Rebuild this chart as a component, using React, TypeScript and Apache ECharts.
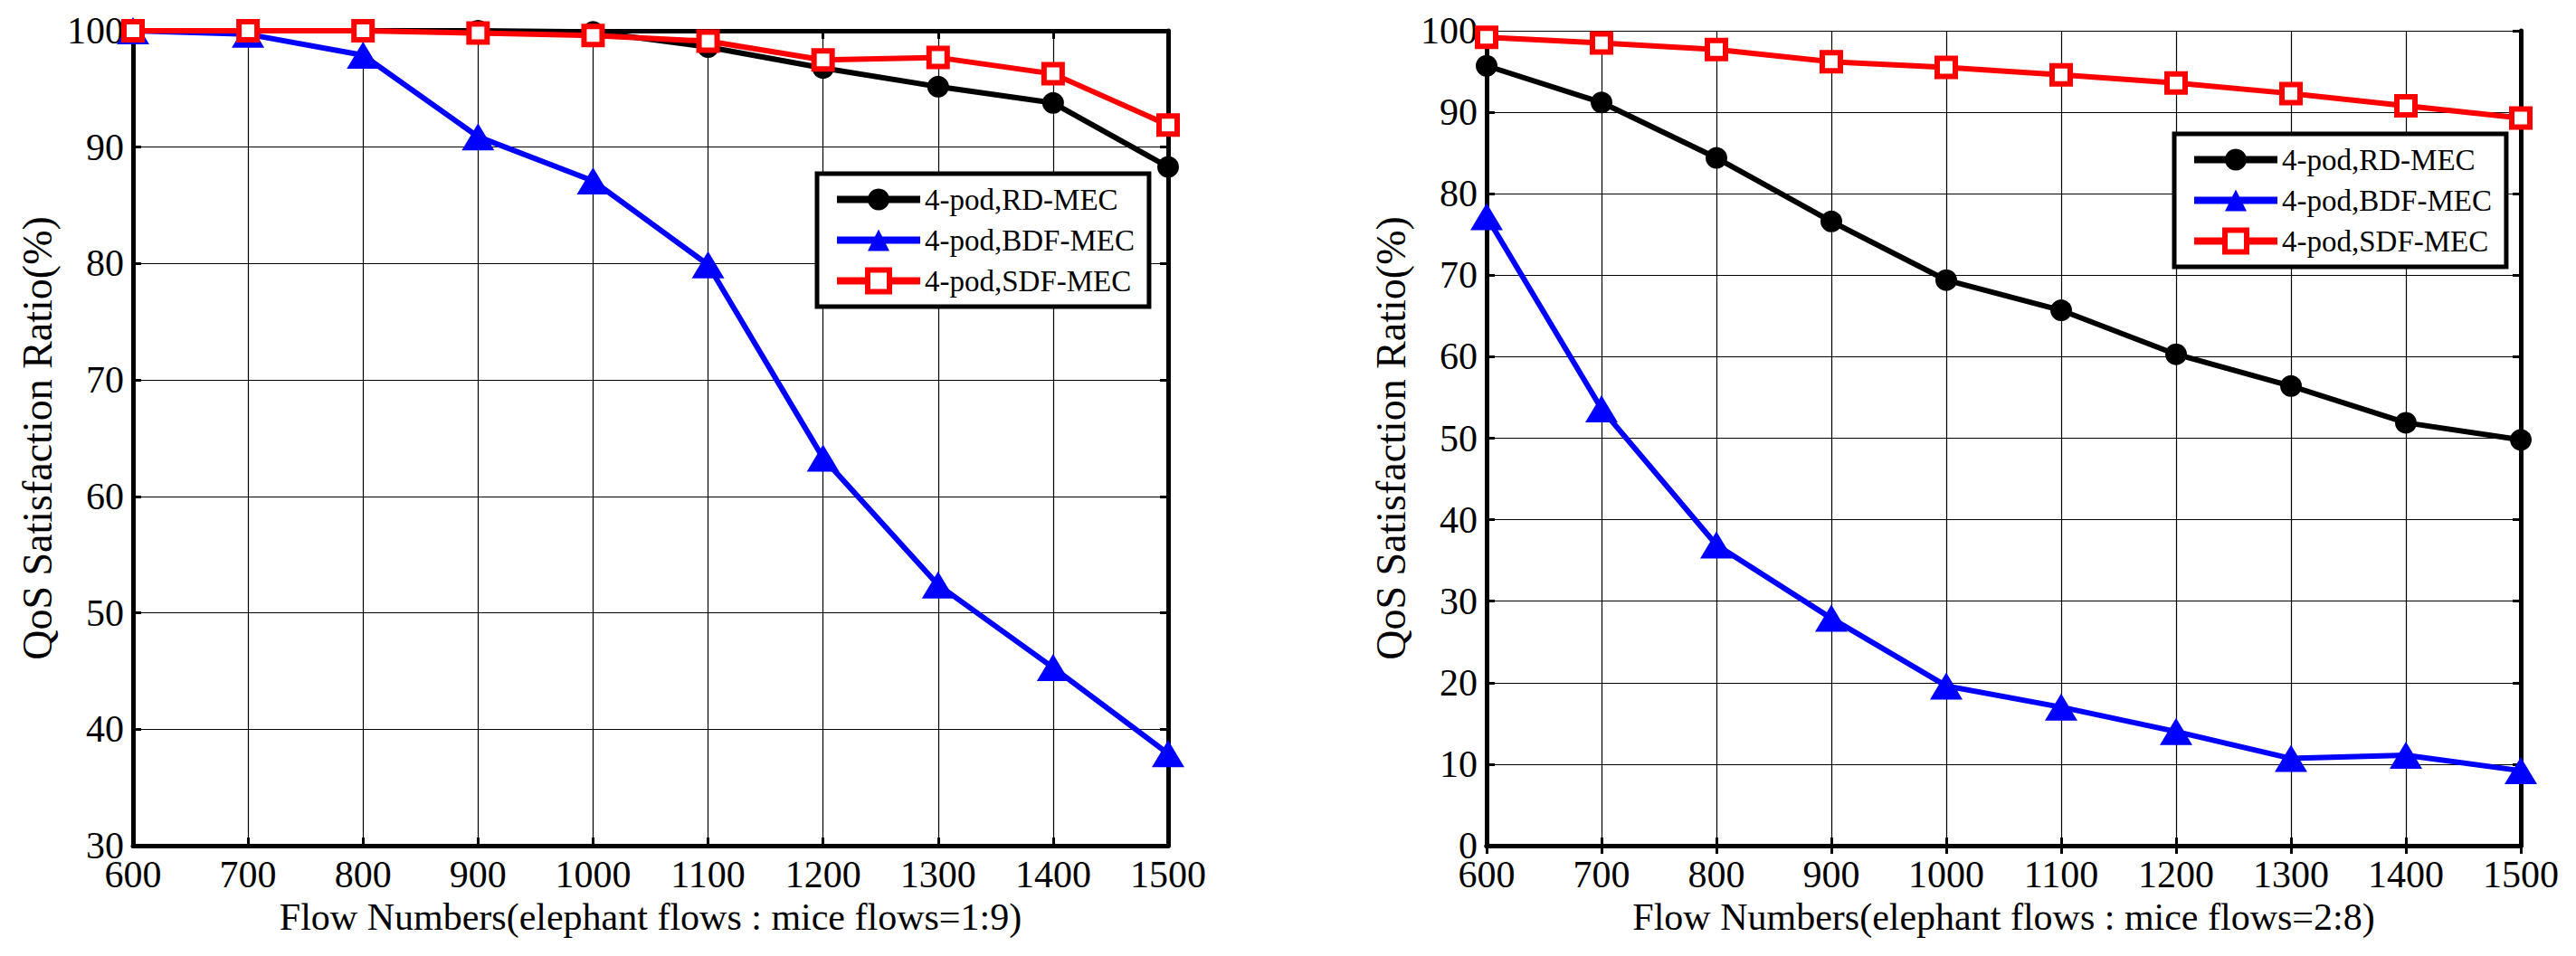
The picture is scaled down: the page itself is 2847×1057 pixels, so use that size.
import React, { useEffect, useRef } from "react";
import * as echarts from "echarts";

const flows = [600, 700, 800, 900, 1000, 1100, 1200, 1300, 1400, 1500];

// Left chart (elephant : mice = 1:9)
const rdLeft = [100, 100, 100, 100, 99.9, 98.6, 96.8, 95.2, 93.8, 88.3];
const bdfLeft = [100, 99.7, 97.9, 90.9, 87.1, 79.9, 63.3, 52.4, 45.3, 37.9];
const sdfLeft = [100, 100, 100, 99.8, 99.6, 99.1, 97.5, 97.7, 96.3, 91.9];

// Right chart (elephant : mice = 2:8)
const rdRight = [95.7, 91.2, 84.4, 76.6, 69.4, 65.7, 60.3, 56.4, 51.9, 49.8];
const bdfRight = [77.2, 53.6, 36.9, 27.9, 19.6, 17.0, 14.0, 10.7, 11.1, 9.2];
const sdfRight = [99.2, 98.5, 97.7, 96.2, 95.5, 94.6, 93.6, 92.3, 90.8, 89.3];

const seriesNames = ["4-pod,RD-MEC", "4-pod,BDF-MEC", "4-pod,SDF-MEC"];
const xTitles = [
  "Flow Numbers(elephant flows : mice flows=1:9)",
  "Flow Numbers(elephant flows : mice flows=2:8)",
];
const yTitle = "QoS Satisfaction Ratio(%)";

const FONT = "Liberation Serif";

const pairs = (ys: number[]) => flows.map((x, i) => [x, ys[i]]);

export default function App() {
  const ref = useRef<HTMLDivElement>(null);
  useEffect(() => {
    if (!ref.current) return;
    const chart = echarts.init(ref.current, undefined, { renderer: "svg" });

    const grids = [
      { left: 147, top: 34, width: 1144, height: 901 },
      { left: 1643, top: 34, width: 1143, height: 901 },
    ];
    const yRanges = [
      [30, 100],
      [0, 100],
    ];

    const axisLine = { show: true, lineStyle: { color: "#000", width: 5 } };
    const tick = { show: true, inside: true, length: 9, lineStyle: { color: "#000", width: 3 } };
    const split = { show: true, lineStyle: { color: "#000", width: 1.2 } };
    const label = {
      color: "#000",
      fontFamily: FONT,
      fontSize: 42,
      lineHeight: 30,
      formatter: (v: number) => String(v),
    };

    const xAxes: any[] = [];
    const yAxes: any[] = [];
    [0, 1].forEach((g) => {
      xAxes.push({
        type: "value",
        gridIndex: g,
        min: 600,
        max: 1500,
        interval: 100,
        position: "bottom",
        axisLine,
        axisTick: tick,
        splitLine: split,
        axisLabel: { ...label, margin: 17 },
        name: xTitles[g],
        nameLocation: "middle",
        nameGap: 58,
        nameTextStyle: { color: "#000", fontFamily: FONT, fontSize: 42 },
      });
      xAxes.push({
        type: "value",
        gridIndex: g,
        min: 600,
        max: 1500,
        interval: 100,
        position: "top",
        axisLine,
        axisTick: tick,
        splitLine: { show: false },
        axisLabel: { show: false },
      });
      yAxes.push({
        type: "value",
        gridIndex: g,
        min: yRanges[g][0],
        max: yRanges[g][1],
        interval: 10,
        position: "left",
        axisLine,
        axisTick: tick,
        splitLine: split,
        axisLabel: { ...label, margin: 10 },
        name: yTitle,
        nameLocation: "middle",
        nameGap: 83,
        nameTextStyle: { color: "#000", fontFamily: FONT, fontSize: 46 },
      });
      yAxes.push({
        type: "value",
        gridIndex: g,
        min: yRanges[g][0],
        max: yRanges[g][1],
        interval: 10,
        position: "right",
        axisLine,
        axisTick: tick,
        splitLine: { show: false },
        axisLabel: { show: false },
      });
    });

    const mk = (name: string, data: number[], g: number, kind: number) => {
      const colors = ["#000", "#0000ff", "#ff0000"];
      const base: any = {
        name,
        type: "line",
        xAxisIndex: g * 2,
        yAxisIndex: g * 2,
        data: pairs(data),
        lineStyle: { color: colors[kind], width: 6 },
        z: 3 + kind,
      };
      if (kind === 0) {
        base.symbol = "circle";
        base.symbolSize = 24;
        base.itemStyle = { color: "#000" };
      } else if (kind === 1) {
        base.symbol = "triangle";
        base.symbolSize = [36, 30];
        base.itemStyle = { color: "#0000ff" };
      } else {
        base.symbol = "rect";
        base.symbolSize = 20;
        base.itemStyle = { color: "#fff", borderColor: "#ff0000", borderWidth: 6 };
      }
      return base;
    };

    const series = [
      mk(seriesNames[0], rdLeft, 0, 0),
      mk(seriesNames[1], bdfLeft, 0, 1),
      mk(seriesNames[2], sdfLeft, 0, 2),
      mk(seriesNames[0], rdRight, 1, 0),
      mk(seriesNames[1], bdfRight, 1, 1),
      mk(seriesNames[2], sdfRight, 1, 2),
    ];

    const legendData = [
      { name: seriesNames[0], itemStyle: { borderWidth: 0 }, lineStyle: { width: 8 } },
      { name: seriesNames[1], itemStyle: { borderWidth: 0 }, lineStyle: { width: 8 } },
      { name: seriesNames[2], itemStyle: { borderWidth: 6, borderColor: "#ff0000", color: "#fff" }, lineStyle: { width: 8 } },
    ];
    const legendBase = {
      orient: "vertical",
      data: legendData,
      itemWidth: 92,
      itemHeight: 30,
      itemGap: 12,
      padding: [12, 16, 12, 18],
      borderColor: "#000",
      borderWidth: 5,
      backgroundColor: "#fff",
      selectedMode: false,
      textStyle: { color: "#000", fontFamily: FONT, fontSize: 33, lineHeight: 33 },
    };

    chart.setOption({
      animation: false,
      backgroundColor: "#fff",
      grid: grids,
      xAxis: xAxes,
      yAxis: yAxes,
      legend: [
        { ...legendBase, left: 903, top: 192 },
        { ...legendBase, left: 2403, top: 148 },
      ],
      series,
    });
    return () => chart.dispose();
  }, []);
  return (
    <div
      ref={ref}
      style={{ position: "absolute", left: 0, top: 0, width: 2847, height: 1057, background: "#fff" }}
    />
  );
}
